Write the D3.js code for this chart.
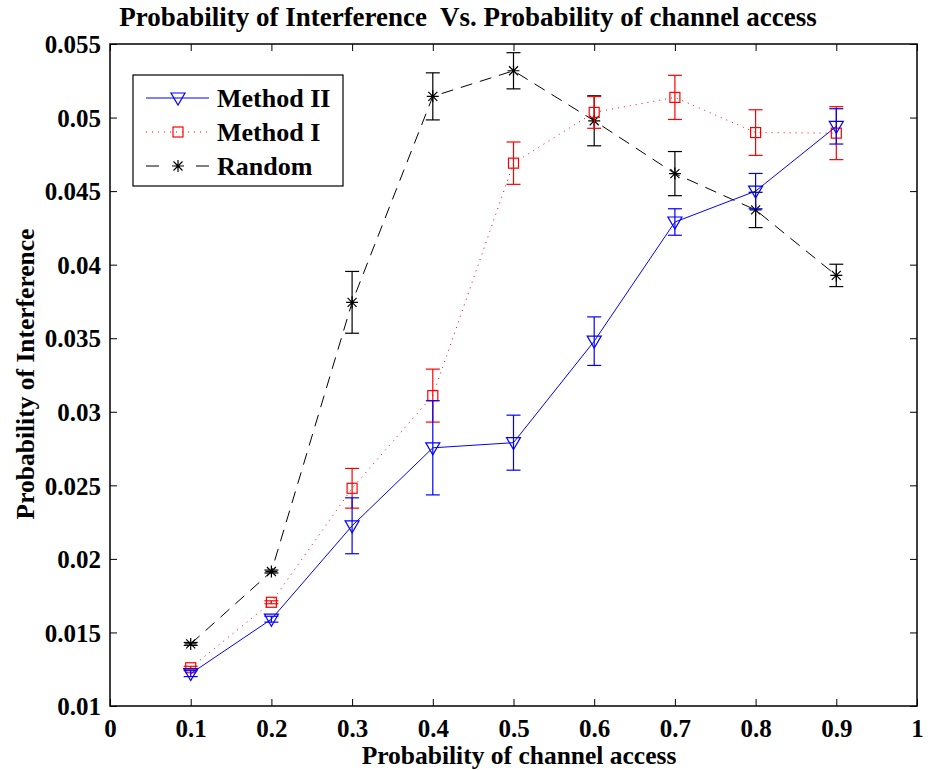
<!DOCTYPE html>
<html>
<head>
<meta charset="utf-8">
<script src="https://cdn.jsdelivr.net/npm/d3@7"></script>
<style>
  body { margin: 0; background: #fff; }
  text { font-family: "Liberation Serif", "Times New Roman", serif; font-weight: bold; }
</style>
</head>
<body>
<div id="chart"></div>
<script>
// x positions (probability of channel access)
var xValues = [0.1, 0.2, 0.3, 0.4, 0.5, 0.6, 0.7, 0.8, 0.9];

// Method II (blue, solid, triangles)
var methodII = [0.0122, 0.0159, 0.02225, 0.02755, 0.0279, 0.0348, 0.0429, 0.0450, 0.0494];
var methodIIErr = [0.0002, 0.0002, 0.0019, 0.0032, 0.00187, 0.00165, 0.0009, 0.0012, 0.0012];

// Method I (red, dotted, squares)
var methodI = [0.0126, 0.01705, 0.0248, 0.0311, 0.0469, 0.05035, 0.05137, 0.04898, 0.04894];
var methodIErr = [0.0001, 0.0001, 0.00135, 0.0018, 0.00144, 0.00108, 0.0015, 0.00155, 0.0018];

// Random (black, dashed, asterisks)
var random = [0.01422, 0.01914, 0.03744, 0.05144, 0.05318, 0.04978, 0.04619, 0.04372, 0.03927];
var randomErr = [0.0001, 0.0001, 0.0021, 0.0016, 0.00123, 0.0017, 0.0015, 0.0012, 0.00076];

var xTicks = [0, 0.1, 0.2, 0.3, 0.4, 0.5, 0.6, 0.7, 0.8, 0.9, 1];
var xTickLabels = ['0', '0.1', '0.2', '0.3', '0.4', '0.5', '0.6', '0.7', '0.8', '0.9', '1'];
var yTicks = [0.01, 0.015, 0.02, 0.025, 0.03, 0.035, 0.04, 0.045, 0.05, 0.055];
var yTickLabels = ['0.01', '0.015', '0.02', '0.025', '0.03', '0.035', '0.04', '0.045', '0.05', '0.055'];

var width = 928, height = 770;
var margin = { top: 44, right: 11, bottom: 64, left: 110 };
var innerW = width - margin.left - margin.right;
var innerH = height - margin.top - margin.bottom;

var svg = d3.select('#chart')
    .append('svg')
    .attr('width', width)
    .attr('height', height);

var g = svg.append('g')
    .attr('transform', 'translate(' + margin.left + ',' + margin.top + ')');

var x = d3.scaleLinear().domain([0, 1]).range([0, innerW]);
var y = d3.scaleLinear().domain([0.01, 0.055]).range([innerH, 0]);

// axes, ticks drawn inward on all four sides (box on)
var tickLen = 7;
var xAxis = d3.axisBottom(x).tickValues(xTicks)
    .tickFormat(function (d, i) { return xTickLabels[i]; })
    .tickSizeInner(-tickLen).tickSizeOuter(0).tickPadding(13);
var yAxis = d3.axisLeft(y).tickValues(yTicks)
    .tickFormat(function (d, i) { return yTickLabels[i]; })
    .tickSizeInner(-tickLen).tickSizeOuter(0).tickPadding(9);

var gx = g.append('g').attr('transform', 'translate(0,' + innerH + ')').call(xAxis);
var gy = g.append('g').call(yAxis);
g.append('g').call(d3.axisTop(x).tickValues(xTicks).tickFormat('').tickSizeInner(-tickLen).tickSizeOuter(0));
g.append('g').attr('transform', 'translate(' + innerW + ',0)')
    .call(d3.axisRight(y).tickValues(yTicks).tickFormat('').tickSizeInner(-tickLen).tickSizeOuter(0));

g.selectAll('.domain').remove();
g.selectAll('.tick line').attr('stroke', '#000').attr('stroke-width', 1);
gx.selectAll('text').attr('font-size', 25).attr('fill', '#000')
    .attr('dy', '0.71em');
gy.selectAll('text').attr('font-size', 25).attr('fill', '#000')
    .attr('dy', '0.35em');

g.append('rect')
    .attr('width', innerW).attr('height', innerH)
    .attr('fill', 'none').attr('stroke', '#000').attr('stroke-width', 1.5);

var series = [
    { name: 'Method II', values: methodII, err: methodIIErr, color: '#0000ff', dash: null, legendDash: null, marker: 'tri' },
    { name: 'Method I', values: methodI, err: methodIErr, color: '#ff0000', dash: '1,5', legendDash: '1,5', marker: 'square' },
    { name: 'Random', values: random, err: randomErr, color: '#000000', dash: '12,8', legendDash: '13,37', marker: 'star' }
];

var drawMarker = function (sel, type, color) {
    if (type === 'tri') {
        sel.append('path').attr('d', 'M-7,-5L7,-5L0,7Z')
            .attr('fill', 'none').attr('stroke', color).attr('stroke-width', 1.2);
    } else if (type === 'square') {
        sel.append('rect').attr('x', -5).attr('y', -5).attr('width', 10).attr('height', 10)
            .attr('fill', 'none').attr('stroke', color).attr('stroke-width', 1.2);
    } else {
        sel.append('path')
            .attr('d', 'M-6,0L6,0M0,-6L0,6M-4.5,-4.5L4.5,4.5M-4.5,4.5L4.5,-4.5')
            .attr('stroke', color).attr('stroke-width', 1.2);
    }
};

var line = d3.line()
    .x(function (d, i) { return x(xValues[i]); })
    .y(function (d) { return y(d); });

// draw in reverse so the blue series sits on top
series.slice().reverse().forEach(function (s) {
    var sg = g.append('g');

    sg.append('path')
        .attr('d', line(s.values))
        .attr('fill', 'none')
        .attr('stroke', s.color)
        .attr('stroke-width', 1)
        .attr('stroke-dasharray', s.dash);

    // error bars
    var eb = sg.selectAll('.err')
        .data(s.values)
        .enter()
        .append('g')
        .attr('stroke', s.color)
        .attr('stroke-width', 1.2);
    eb.append('line')
        .attr('x1', function (d, i) { return x(xValues[i]); })
        .attr('x2', function (d, i) { return x(xValues[i]); })
        .attr('y1', function (d, i) { return y(d - s.err[i]); })
        .attr('y2', function (d, i) { return y(d + s.err[i]); });
    [-1, 1].forEach(function (sign) {
        eb.append('line')
            .attr('x1', function (d, i) { return x(xValues[i]) - 7; })
            .attr('x2', function (d, i) { return x(xValues[i]) + 7; })
            .attr('y1', function (d, i) { return y(d + sign * s.err[i]); })
            .attr('y2', function (d, i) { return y(d + sign * s.err[i]); });
    });

    sg.selectAll('.mk')
        .data(s.values)
        .enter()
        .append('g')
        .attr('transform', function (d, i) { return 'translate(' + x(xValues[i]) + ',' + y(d) + ')'; })
        .each(function () { drawMarker(d3.select(this), s.marker, s.color); });
});

// legend
var legend = svg.append('g').attr('transform', 'translate(133,75)');
legend.append('rect')
    .attr('width', 210).attr('height', 111)
    .attr('fill', '#fff').attr('stroke', '#000').attr('stroke-width', 1.2);

var rows = legend.selectAll('.legend')
    .data(series)
    .enter()
    .append('g')
    .attr('transform', function (d, i) { return 'translate(0,' + (23 + i * 34) + ')'; });
rows.append('line')
    .attr('x1', 13).attr('x2', 76)
    .attr('stroke', function (d) { return d.color; })
    .attr('stroke-width', 1)
    .attr('stroke-dasharray', function (d) { return d.legendDash; });
rows.each(function (d) {
    var mg = d3.select(this).append('g').attr('transform', 'translate(45,0)');
    drawMarker(mg, d.marker, d.color);
});
rows.append('text')
    .attr('x', 84).attr('dy', '0.35em')
    .attr('font-size', 26)
    .text(function (d) { return d.name; });

// titles
svg.append('text')
    .attr('x', 468).attr('y', 26)
    .attr('text-anchor', 'middle')
    .attr('font-size', 27)
    .style('white-space', 'pre')
    .text('Probability of Interference  Vs. Probability of channel access');

svg.append('text')
    .attr('x', 519).attr('y', 764)
    .attr('text-anchor', 'middle')
    .attr('font-size', 25.5)
    .text('Probability of channel access');

svg.append('text')
    .attr('transform', 'translate(34,374) rotate(-90)')
    .attr('text-anchor', 'middle')
    .attr('font-size', 25.5)
    .text('Probability of Interference');
</script>
</body>
</html>
